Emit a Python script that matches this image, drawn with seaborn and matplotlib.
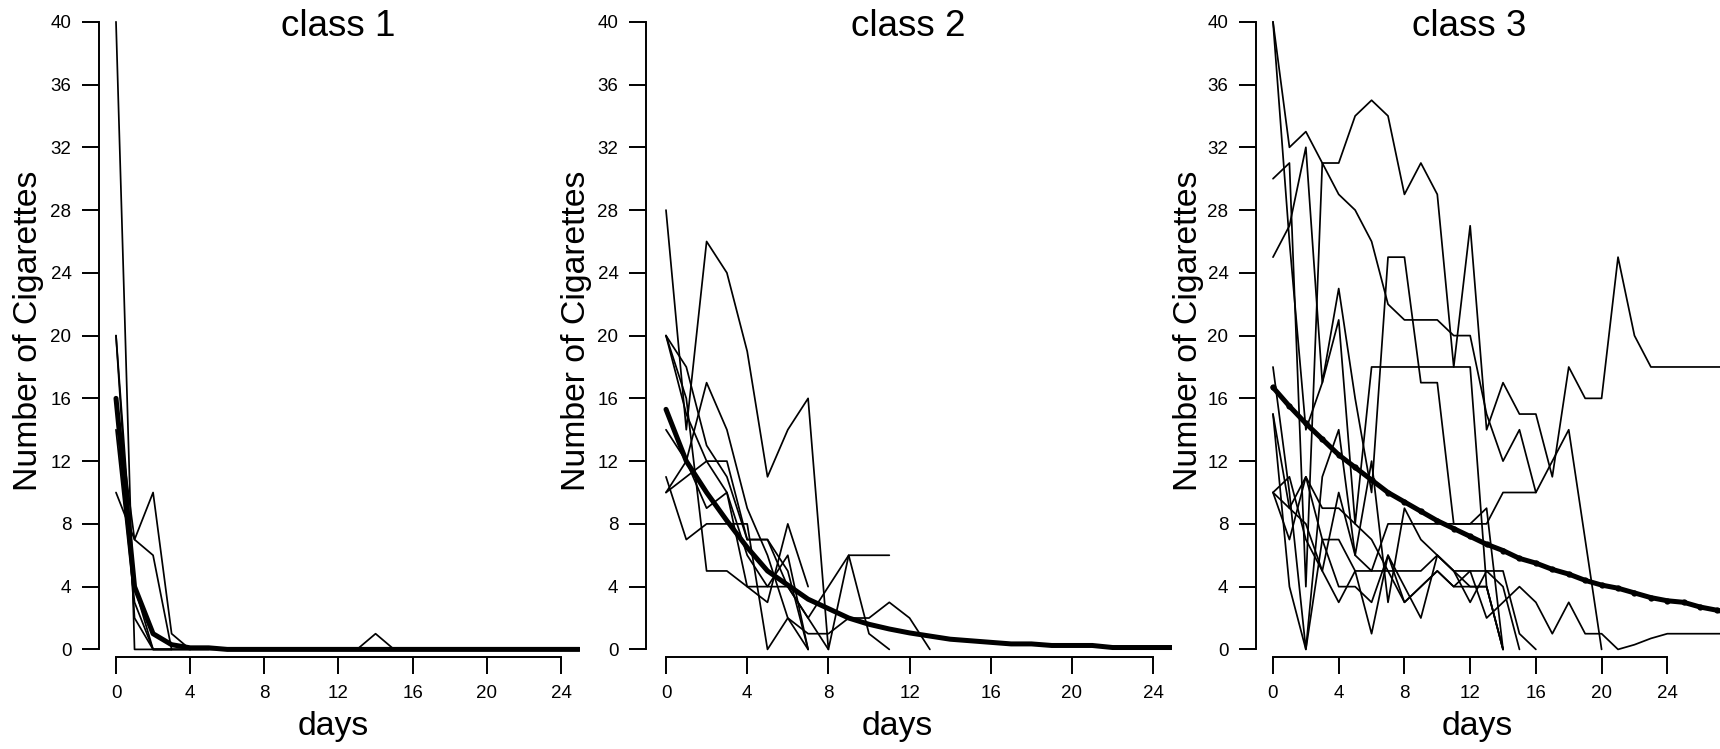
import numpy as np
import pandas as pd
import matplotlib
matplotlib.use("Agg")
import matplotlib.pyplot as plt
import seaborn as sns

# ---------------- data: cigarettes per day for each subject ----------------
day_ticks = [0, 4, 8, 12, 16, 20, 24]
count_ticks = [0, 4, 8, 12, 16, 20, 24, 28, 32, 36, 40]
class_titles = ["class 1", "class 2", "class 3"]

# class 1: quick quitters
c1_s1 = [40, 0, 0, 0, 0, 0, 0, 0, 0, 0, 0, 0, 0, 0, 1, 0, 0, 0, 0, 0, 0, 0, 0, 0, 0, 0]
c1_s2 = [20, 4, 0, 0, 0]
c1_s3 = [16, 7, 6, 0, 0]
c1_s4 = [14, 3, 0, 0]
c1_s5 = [10, 7, 10, 1, 0, 0]
c1_s6 = [20, 2, 0, 0]
c1_mean = [16, 4, 1, 0.3, 0.1, 0.1, 0, 0, 0, 0, 0, 0, 0,
           0, 0, 0, 0, 0, 0, 0, 0, 0, 0, 0, 0, 0]

# class 2: gradual quitters
c2_s1 = [28, 14, 26, 24, 19, 11, 14, 16, 0, 6, 6, 6]
c2_s2 = [20, 18, 13, 11, 7, 7, 5, 0]
c2_s3 = [20, 15, 12, 10, 4, 4, 4, 2, 0]
c2_s4 = [11, 7, 8, 8, 8, 0, 2, 0]
c2_s5 = [10, 11, 12, 12, 7, 7, 4, 2, 4, 6, 1, 0]
c2_s6 = [10, 12, 17, 14, 9, 6, 2, 1, 1, 2, 2, 3, 2, 0]
c2_s7 = [14, 12, 9, 10, 6, 4, 6, 0]
c2_s8 = [20, 16, 5, 5, 4, 3, 8, 4]
c2_mean = [15.3, 12.0, 10.0, 8.2, 6.5, 5.0, 4.1, 3.2, 2.6, 2.0, 1.6, 1.3, 1.05,
           0.85, 0.65, 0.55, 0.45, 0.35, 0.35, 0.25, 0.25, 0.25, 0.12, 0.12,
           0.12, 0.12, 0.12]

# class 3: persistent smokers
c3_s1 = [40, 32, 33, 31, 29, 28, 26, 22, 21, 21, 21, 20, 20, 15, 12, 14, 10,
         12, 14, 7, 0]
c3_s2 = [30, 31, 4, 31, 31, 34, 35, 34, 29, 31, 29, 18, 27, 14, 17, 15, 15,
         11, 18, 16, 16, 25, 20, 18, 18, 18, 18, 18, 18, 18]
c3_s3 = [25, 27, 32, 17, 23, 16, 10, 25, 25, 17, 17, 8, 8, 8, 10, 10, 10]
c3_s4 = [40, 26, 14, 17, 21, 8, 18, 18, 18, 18, 18, 18, 18, 4, 0]
c3_s5 = [18, 10, 0, 11, 14, 6, 12, 3, 9, 7, 6, 5, 4, 4, 0]
c3_s6 = [15, 4, 0, 7, 7, 5, 5, 8, 8, 8, 8, 8, 8, 9, 0]
c3_s7 = [15, 9, 11, 9, 9, 8, 7, 5, 5, 5, 6, 5, 5, 2, 3, 4, 3, 1, 3, 1, 1, 0,
         0.3, 0.7, 1, 1, 1, 1, 1, 1]
c3_s8 = [10, 11, 7, 5, 10, 6, 5, 5, 3, 4, 5, 4, 4, 4, 0]
c3_s9 = [10, 7, 11, 7, 4, 4, 3, 6, 4, 2, 6, 5, 3, 5, 5, 1, 0]
c3_s10 = [10, 9, 8, 5, 3, 5, 1, 6, 3, 4, 5, 4, 5, 5, 4, 0]
c3_mean = [16.7, 15.5, 14.4, 13.4, 12.4, 11.6, 10.8, 10.0, 9.4, 8.8, 8.2, 7.7,
           7.2, 6.7, 6.3, 5.8, 5.5, 5.1, 4.8, 4.4, 4.1, 3.9, 3.6, 3.3, 3.1,
           3.0, 2.7, 2.5, 2.3, 2.1]

classes = [
    ([c1_s1, c1_s2, c1_s3, c1_s4, c1_s5, c1_s6], c1_mean),
    ([c2_s1, c2_s2, c2_s3, c2_s4, c2_s5, c2_s6, c2_s7, c2_s8], c2_mean),
    ([c3_s1, c3_s2, c3_s3, c3_s4, c3_s5, c3_s6, c3_s7, c3_s8, c3_s9, c3_s10],
     c3_mean),
]
mean_marker = [None, None, "o"]


def long_table(subjects):
    rows = []
    for sid, series in enumerate(subjects):
        for day, val in enumerate(series):
            rows.append({"subject": sid, "day": day, "cigs": val})
    return pd.DataFrame(rows)


# ---------------- figure layout (pixel geometry) ----------------
W, H = 1720, 749
sns.set_style("ticks")
plt.rcParams["font.family"] = ["Liberation Sans", "DejaVu Sans"]
plt.rcParams["axes.linewidth"] = 1.4
plt.rcParams["text.color"] = "black"
plt.rcParams["axes.labelcolor"] = "black"
plt.rcParams["xtick.color"] = "black"
plt.rcParams["ytick.color"] = "black"
plt.rcParams["axes.edgecolor"] = "black"

fig = plt.figure(figsize=(W / 100, H / 100), dpi=100)

y0_px, px_per_unit = 649.4, 15.69
ylo, yhi = -0.46, 40.6
ax_bottom_px = y0_px - ylo * px_per_unit
ax_top_px = y0_px - yhi * px_per_unit

# (left spine px, right edge px, px of day 0, px per day)
panels = [
    (98.5, 580.0, 116.0, 18.54),
    (645.5, 1172.0, 666.0, 20.3),
    (1255.5, 1760.0, 1273.0, 16.43),
]
title_x = [338, 908, 1469]
ylabel_x = [29, 576, 1189]
xlabel_x = [333, 897, 1477]

for i, ((left, right, x0, ppd), (subjects, mean)) in enumerate(zip(panels, classes)):
    ax = fig.add_axes([left / W, 1 - ax_bottom_px / H, (right - left) / W,
                       (ax_bottom_px - ax_top_px) / H])
    ax.set_facecolor("white")
    df = long_table(subjects)
    sns.lineplot(data=df, x="day", y="cigs", units="subject", estimator=None,
                 color="black", linewidth=1.25, sort=False, legend=False, ax=ax)
    sns.lineplot(x=list(range(len(mean))), y=mean, color="black",
                 linewidth=3.6, marker=mean_marker[i], markersize=4.5,
                 markeredgewidth=0, ax=ax)

    ax.set_xlim((left - x0) / ppd, (right - x0) / ppd)
    ax.set_ylim(ylo, yhi)
    ax.set_xticks(day_ticks)
    ax.set_yticks(count_ticks)
    ax.set_xticklabels([str(t) for t in day_ticks])
    ax.set_yticklabels([str(t) for t in count_ticks])
    ax.spines["top"].set_visible(False)
    ax.spines["right"].set_visible(False)
    ax.spines["left"].set_bounds(0, 40)
    ax.spines["bottom"].set_bounds(0, 24)
    ax.tick_params(axis="both", direction="out", length=12, width=1.4,
                   labelsize=13.5, colors="black")
    ax.tick_params(axis="y", pad=7.5)
    ax.tick_params(axis="x", pad=8.5)
    ax.set_xlabel("")
    ax.set_ylabel("")

    fig.text(title_x[i] / W, 1 - 27 / H, class_titles[i], ha="center",
             va="center", fontsize=26.5, color="black")
    fig.text(ylabel_x[i] / W, 1 - 331 / H, "Number of Cigarettes",
             rotation=90, ha="center", va="center", fontsize=24.3,
             color="black")
    fig.text(xlabel_x[i] / W, 1 - 726 / H, "days", ha="center", va="center",
             fontsize=24.3, color="black")

fig.savefig("out.png", dpi=100, facecolor="white")
